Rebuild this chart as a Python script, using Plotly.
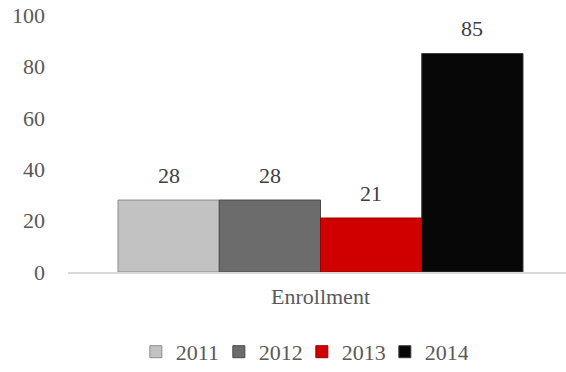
import plotly.graph_objects as go

categories = ["Enrollment"]
years = ["2011", "2012", "2013", "2014"]
values = [28, 28, 21, 85]
colors = ["#c2c2c2", "#6c6c6c", "#d00000", "#070707"]
edge_colors = ["#8c8c8c", "#4a4a4a", "#960000", "#3a3a3a"]
y_ticks = [0, 20, 40, 60, 80, 100]

FONT = "Liberation Serif, Times New Roman, serif"
FS = 22
BARGAP = 0.19

fig = go.Figure()
for yr, v, c, ec in zip(years, values, colors, edge_colors):
    fig.add_trace(go.Bar(
        name=yr, x=categories, y=[v],
        marker=dict(color=c, line=dict(color=ec, width=1)),
    ))
# empty spacer entry so the last legend label is not clipped
fig.add_trace(go.Bar(name="", x=[], y=[], hoverinfo="skip",
                     marker=dict(color="rgba(0,0,0,0)", line=dict(width=0))))

# value labels placed above each bar (bar slot index offsets within the group)
n = len(years)
slot = (1 - BARGAP) / n
for i, (yr, v) in enumerate(zip(years, values)):
    fig.add_annotation(
        x=(i - (n - 1) / 2) * slot, y=v, xref="x", yref="y",
        text=str(v), showarrow=False, yanchor="middle", yshift=25,
        font=dict(family=FONT, size=FS, color="#404040"),
    )

fig.update_layout(
    width=566, height=372,
    margin=dict(l=68, r=0, t=15, b=100, autoexpand=False),
    paper_bgcolor="white", plot_bgcolor="white",
    barmode="group", bargap=BARGAP, bargroupgap=0,
    font=dict(family=FONT, size=FS, color="#595959"),
    showlegend=True,
    legend=dict(orientation="h", xref="container", yref="container",
                x=0.240, xanchor="left", y=0.054, yanchor="middle",
                font=dict(family=FONT, size=FS, color="#595959"),
                itemwidth=30, tracegroupgap=0, entrywidth=38, entrywidthmode="pixels"),
    xaxis=dict(range=[-0.505, 0.491], showline=True, linecolor="#d9d9d9", linewidth=2,
               ticks="", ticklabelstandoff=4,
               tickfont=dict(family=FONT, size=FS, color="#595959")),
    yaxis=dict(range=[0, 100], tickvals=y_ticks, showgrid=False, zeroline=False,
               showline=False, ticks="", ticklabelstandoff=22, ticklabeloverflow="allow",
               tickfont=dict(family=FONT, size=FS, color="#595959")),
)

fig.write_html("out.html", config={"displayModeBar": False},
               post_script="document.body.style.margin='0';")
